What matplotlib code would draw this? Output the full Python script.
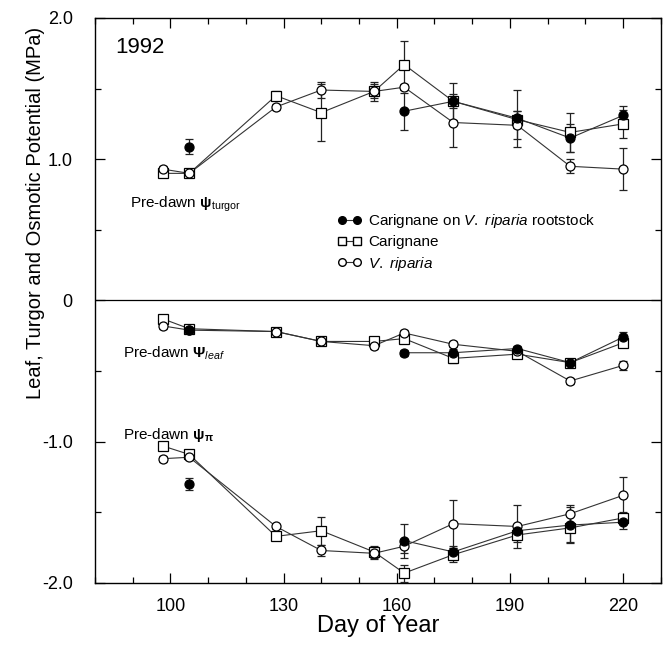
""" Pre-dawn leaf, turgor and osmotic potential through the 1992 season
    for Carignane, V. riparia and Carignane grafted on V. riparia."""

import numpy as np
import matplotlib
matplotlib.use('Agg')
from matplotlib import pyplot as plt
from matplotlib.lines import Line2D
from matplotlib.ticker import MultipleLocator, FixedLocator, FixedFormatter

plt.rcParams['font.family'] = ['Liberation Sans', 'DejaVu Sans']
plt.rcParams['mathtext.fontset'] = 'custom'
plt.rcParams['mathtext.rm'] = 'Liberation Sans'
plt.rcParams['mathtext.it'] = 'Liberation Sans:italic'
plt.rcParams['mathtext.bf'] = 'Liberation Sans:bold'

# Sampling days (day of year)
DAYS = [98, 105, 128, 140, 154, 162, 175, 192, 206, 220]
DAYS_GRAFT = [105, 162, 175, 192, 206, 220]

Y_TICKS = [-2.0, -1.0, 0.0, 1.0, 2.0]
Y_TICK_LABELS = ['-2.0', '-1.0', '0', '1.0', '2.0']
X_TICKS = [100, 130, 160, 190, 220]

# Carignane (open squares)
car_turgor = [0.90, 0.90, 1.45, 1.33, 1.48, 1.67, 1.41, 1.28, 1.19, 1.25]
car_turgor_se = [0.02, 0.02, 0.03, 0.20, 0.07, 0.17, 0.13, 0.06, 0.14, 0.10]
car_leaf = [-0.13, -0.20, -0.22, -0.29, -0.29, -0.27, -0.41, -0.38, -0.44, -0.30]
car_leaf_se = [0.02, 0.02, 0.02, 0.02, 0.02, 0.03, 0.03, 0.03, 0.02, 0.03]
car_osm = [-1.03, -1.09, -1.67, -1.63, -1.78, -1.93, -1.80, -1.66, -1.61, -1.54]
car_osm_se = [0.02, 0.03, 0.02, 0.10, 0.04, 0.06, 0.05, 0.05, 0.10, 0.04]

# V. riparia (open circles)
rip_turgor = [0.93, 0.90, 1.37, 1.49, 1.48, 1.51, 1.26, 1.24, 0.95, 0.93]
rip_turgor_se = [0.02, 0.02, 0.02, 0.06, 0.05, 0.02, 0.17, 0.10, 0.05, 0.15]
rip_leaf = [-0.18, -0.21, -0.22, -0.29, -0.32, -0.23, -0.31, -0.36, -0.57, -0.46]
rip_leaf_se = [0.02, 0.02, 0.02, 0.02, 0.02, 0.02, 0.02, 0.02, 0.02, 0.03]
rip_osm = [-1.12, -1.11, -1.60, -1.77, -1.79, -1.74, -1.58, -1.60, -1.51, -1.38]
rip_osm_se = [0.02, 0.02, 0.02, 0.04, 0.04, 0.05, 0.17, 0.15, 0.06, 0.13]

# Carignane on V. riparia rootstock (filled circles)
grf_turgor = [1.09, 1.34, 1.41, 1.29, 1.15, 1.31]
grf_turgor_se = [0.05, 0.13, 0.05, 0.20, 0.10, 0.07]
grf_leaf = [-0.21, -0.37, -0.37, -0.34, -0.44, -0.26]
grf_leaf_se = [0.02, 0.02, 0.03, 0.02, 0.02, 0.04]
grf_osm = [-1.30, -1.70, -1.78, -1.63, -1.59, -1.57]
grf_osm_se = [0.04, 0.12, 0.04, 0.04, 0.13, 0.05]

LINE_KW = dict(color='#333333', lw=0.8, zorder=2)
ERR_KW = dict(fmt='none', ecolor='#222222', elinewidth=0.9, capsize=3, capthick=0.9, zorder=3)


def draw_series(ax, days, vals, errs, marker, face, gap_after_first=False):
    """ Error bars, connecting line and markers for one genotype/measurement."""
    days = np.asarray(days)
    vals = np.asarray(vals)
    ax.errorbar(days, vals, yerr=errs, **ERR_KW)
    start = 1 if gap_after_first else 0
    ax.plot(days[start:], vals[start:], **LINE_KW)
    ax.plot(days, vals, ls='none', marker=marker, ms=6.5, mfc=face, mec='black',
            mew=0.9, zorder=4)


def main():
    fig = plt.figure(figsize=(6.64, 6.54), dpi=100)
    ax = fig.add_axes([0.143, 0.1086, 0.852, 0.8639])

    for vals, errs in [(car_turgor, car_turgor_se), (car_leaf, car_leaf_se), (car_osm, car_osm_se)]:
        draw_series(ax, DAYS, vals, errs, 's', 'white')
    for vals, errs in [(rip_turgor, rip_turgor_se), (rip_leaf, rip_leaf_se), (rip_osm, rip_osm_se)]:
        draw_series(ax, DAYS, vals, errs, 'o', 'white')
    for vals, errs in [(grf_turgor, grf_turgor_se), (grf_leaf, grf_leaf_se), (grf_osm, grf_osm_se)]:
        draw_series(ax, DAYS_GRAFT, vals, errs, 'o', 'black', gap_after_first=True)

    ax.axhline(0, color='black', lw=0.9, zorder=1)

    ax.set_xlim(80, 230)
    ax.set_ylim(-2.0, 2.0)
    ax.xaxis.set_major_locator(FixedLocator(X_TICKS))
    ax.xaxis.set_minor_locator(MultipleLocator(10))
    ax.yaxis.set_major_locator(FixedLocator(Y_TICKS))
    ax.yaxis.set_major_formatter(FixedFormatter(Y_TICK_LABELS))
    ax.yaxis.set_minor_locator(MultipleLocator(0.5))
    ax.tick_params(which='both', direction='in', top=True, right=True, width=0.9)
    ax.tick_params(which='major', length=7, labelsize=13, pad=11)
    ax.tick_params(which='minor', length=4)
    ax.tick_params(axis='y', which='major', pad=16)
    for sp in ax.spines.values():
        sp.set_linewidth(1.0)

    ax.set_xlabel('Day of Year', fontsize=17, labelpad=0)
    fig.text(36 / 664, 1 - 213 / 654, 'Leaf, Turgor and Osmotic Potential (MPa)',
             rotation=90, ha='center', va='center', fontsize=14.5)

    ax.text(0.035, 0.947, '1992', transform=ax.transAxes, fontsize=16, va='center')
    ax.text(0.062, 0.671, r'Pre-dawn $\mathbf{\psi}_{\mathrm{turgor}}$', transform=ax.transAxes,
            fontsize=11, va='center')
    ax.text(0.049, 0.407, r'Pre-dawn $\mathbf{\Psi}_{\mathit{leaf}}$', transform=ax.transAxes,
            fontsize=11, va='center')
    ax.text(0.049, 0.262, r'Pre-dawn $\mathbf{\psi}_{\mathbf{\pi}}$', transform=ax.transAxes,
            fontsize=11, va='center')

    handles = [
        Line2D([], [], color='#333333', lw=0.8, marker='o', ms=5.5, mfc='black', mec='black'),
        Line2D([], [], color='#333333', lw=0.8, marker='s', ms=5.5, mfc='white', mec='black'),
        Line2D([], [], color='#333333', lw=0.8, marker='o', ms=5.5, mfc='white', mec='black'),
    ]
    labels = [r'Carignane on $\mathit{V.\ riparia}$ rootstock', 'Carignane',
              r'$\mathit{V.\ riparia}$']
    ax.legend(handles, labels, loc='upper left', bbox_to_anchor=(0.415, 0.67),
              frameon=False, numpoints=2, handlelength=1.6, handletextpad=0.4,
              labelspacing=0.35, borderpad=0, fontsize=11)

    fig.savefig('out.png', dpi=100)


if __name__ == '__main__':
    main()
